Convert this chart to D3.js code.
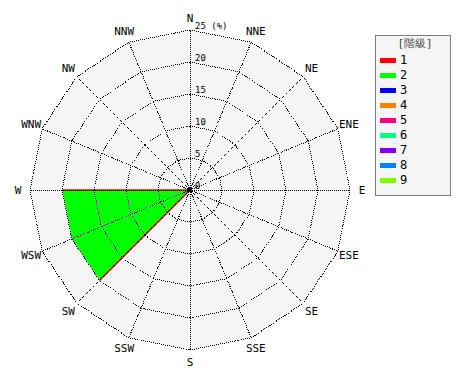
<!DOCTYPE html>
<html lang="ja">
<head>
<meta charset="UTF-8">
<title>Wind rose</title>
<style>
  body { margin: 0; background: #fff; }
  text { font-family: "DejaVu Sans Mono", monospace; }
</style>
</head>
<body>
<div class="graph-container"></div>
<script src="https://d3js.org/d3.v7.min.js"></script>
<script>
// directions, clockwise from north
var directions = ["N", "NNE", "NE", "ENE", "E", "ESE", "SE", "SSE",
                  "S", "SSW", "SW", "WSW", "W", "WNW", "NW", "NNW"];
var ticks = [0, 5, 10, 15, 20, 25];
var classNames = ["1", "2", "3", "4", "5", "6", "7", "8", "9"];
var classColors = ["#ff0000", "#00ff00", "#0000ff", "#ff8000", "#ff0080",
                   "#00ff80", "#8000ff", "#0080ff", "#80ff00"];
// frequency (%) per direction for each class
var class1 = [0, 0, 0, 0, 0, 0, 0, 0, 0, 0, 0, 0, 0, 0, 0, 0];
var class2 = [0, 0, 0, 0, 0, 0, 0, 0, 0, 0, 20, 20, 20, 0, 0, 0];
var series = [class1, class2];

var width = 470, height = 380;
var cx = 190, cy = 190;

var r = d3.scaleLinear().domain([0, 25]).range([0, 160]);
var angle = d3.scaleLinear().domain([0, directions.length]).range([0, 2 * Math.PI]);

function px(i, v) { return cx + r(v) * Math.sin(angle(i)); }
function py(i, v) { return cy - r(v) * Math.cos(angle(i)); }

var svg = d3.select(".graph-container").append("svg")
    .attr("width", width)
    .attr("height", height);

// polygon for one ring / series
function ring(vals) {
    return vals.map(function(v, i) { return [px(i, v), py(i, v)]; });
}
var line = d3.line().curve(d3.curveLinearClosed);

// background
svg.append("path")
    .attr("d", line(ring(directions.map(function() { return 25; }))))
    .attr("fill", "#f5f5f5");

// stacked series
var cum = directions.map(function() { return 0; });
var stacks = series.map(function(s) {
    cum = cum.map(function(c, i) { return c + s[i]; });
    return cum.slice();
});
for (var k = stacks.length - 1; k >= 0; k--) {
    if (d3.max(stacks[k]) === 0) continue;
    svg.append("path")
        .attr("d", line(ring(stacks[k])))
        .attr("fill", classColors[k]);
}

// radial edges of the filled area, in the colour of class 1
var total = stacks[stacks.length - 1];
var n = directions.length;
var edges = [];
total.forEach(function(v, i) {
    if (v > 0 && (total[(i + n - 1) % n] === 0 || total[(i + 1) % n] === 0)) edges.push(i);
});
svg.append("g").selectAll("line")
    .data(edges)
    .enter().append("line")
    .attr("x1", cx).attr("y1", cy)
    .attr("x2", function(i) { return px(i, total[i]); })
    .attr("y2", function(i) { return py(i, total[i]); })
    .attr("stroke", classColors[0])
    .attr("stroke-width", 1.5);

// grid rings
var grid = svg.append("g").attr("shape-rendering", "crispEdges");
grid.selectAll("path")
    .data(ticks.slice(1))
    .enter().append("path")
    .attr("d", function(t) { return line(ring(directions.map(function() { return t; }))); })
    .attr("fill", "none")
    .attr("stroke", "#000")
    .attr("stroke-dasharray", "1,1");

// spokes
grid.selectAll("line")
    .data(directions)
    .enter().append("line")
    .attr("x1", cx).attr("y1", cy)
    .attr("x2", function(d, i) { return px(i, 25); })
    .attr("y2", function(d, i) { return py(i, 25); })
    .attr("stroke", "#000")
    .attr("stroke-dasharray", "1,1");

svg.append("circle")
    .attr("cx", cx).attr("cy", cy).attr("r", 2)
    .attr("fill", "#000");

// direction labels
svg.append("g").selectAll("text")
    .data(directions)
    .enter().append("text")
    .attr("x", function(d, i) { return cx + 172 * Math.sin(angle(i)); })
    .attr("y", function(d, i) { return cy - 172 * Math.cos(angle(i)); })
    .attr("text-anchor", "middle")
    .attr("dominant-baseline", "central")
    .attr("font-size", 11)
    .attr("fill", "#000")
    .text(function(d) { return d; });

// tick labels
svg.append("g").selectAll("text")
    .data(ticks)
    .enter().append("text")
    .attr("x", cx + 5)
    .attr("y", function(t) { return cy - r(t) - 1; })
    .attr("font-size", 9)
    .attr("fill", "#000")
    .text(function(t) { return t === 25 ? "25 (%)" : t; });

// legend
var legend = svg.append("g").attr("transform", "translate(375,35)");
legend.append("rect")
    .attr("x", 0.5).attr("y", 0.5)
    .attr("width", 75).attr("height", 160)
    .attr("fill", "#f5f5f5")
    .attr("stroke", "#000")
    .attr("stroke-dasharray", "1,1");
legend.append("text")
    .attr("x", 40).attr("y", 12)
    .attr("text-anchor", "middle")
    .attr("font-size", 11)
    .attr("fill", "#444")
    .text("[階級]");
var items = legend.selectAll(".item")
    .data(classNames)
    .enter().append("g")
    .attr("transform", function(d, i) { return "translate(5," + (25 + 15 * i) + ")"; });
items.append("rect")
    .attr("x", 0).attr("y", -2)
    .attr("width", 16).attr("height", 5)
    .attr("fill", function(d, i) { return classColors[i]; });
items.append("text")
    .attr("x", 20).attr("y", 0)
    .attr("dominant-baseline", "central")
    .attr("font-size", 12)
    .attr("fill", "#000")
    .text(function(d) { return d; });
</script>
</body>
</html>
